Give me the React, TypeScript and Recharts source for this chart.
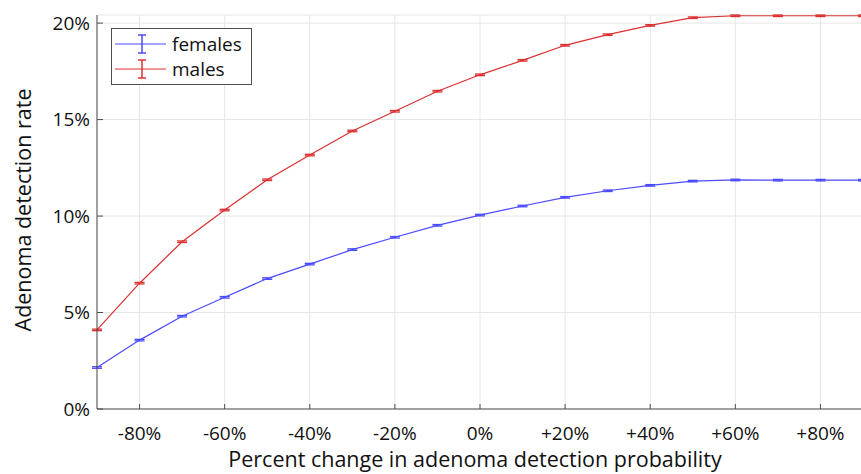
import React from 'react';
import { LineChart, Line, XAxis, YAxis, CartesianGrid, ErrorBar, Label } from 'recharts';

const changes = [-90, -80, -70, -60, -50, -40, -30, -20, -10, 0, 10, 20, 30, 40, 50, 60, 70, 80, 90];
const males = [4.1, 6.52, 8.67, 10.31, 11.88, 13.16, 14.41, 15.43, 16.47, 17.32, 18.07, 18.85, 19.4, 19.88, 20.28, 20.38, 20.38, 20.38, 20.38];
const females = [2.15, 3.57, 4.81, 5.79, 6.76, 7.51, 8.26, 8.9, 9.52, 10.05, 10.52, 10.97, 11.31, 11.59, 11.81, 11.87, 11.86, 11.86, 11.86];
const maleErr = [0.04, 0.04, 0.04, 0.04, 0.04, 0.04, 0.04, 0.04, 0.04, 0.04, 0.04, 0.04, 0.04, 0.04, 0.04, 0.04, 0.04, 0.04, 0.04];
const femaleErr = [0.04, 0.04, 0.04, 0.04, 0.04, 0.04, 0.04, 0.04, 0.04, 0.04, 0.04, 0.04, 0.04, 0.04, 0.04, 0.04, 0.04, 0.04, 0.04];
const xTicks = [-80, -60, -40, -20, 0, 20, 40, 60, 80];
const yTicks = [0, 5, 10, 15, 20];
const seriesNames = ['females', 'males'];

const data = changes.map((c, i) => ({
  change: c,
  males: males[i],
  females: females[i],
  maleErr: maleErr[i],
  femaleErr: femaleErr[i],
}));

const FONT = '"Open Sans", "Noto Sans", sans-serif';
const BLUE = '#4b4bff';
const RED = '#dc3030';
const AXIS = '#4d4d4d';
const COLORS = [BLUE, RED];

const fmtX = (v: number) => (v > 0 ? `+${v}%` : `${v}%`);
const fmtY = (v: number) => `${v}%`;

const LegendBox = () => (
  <svg width={141} height={57} style={{ display: 'block' }}>
    <rect x={0.5} y={0.5} width={140} height={56} fill="#fff" stroke={AXIS} strokeWidth={1} />
    {seriesNames.map((name, i) => {
      const y = 16 + i * 25;
      const color = COLORS[i];
      return (
        <g key={name}>
          <line x1={4} x2={55} y1={y} y2={y} stroke={color} strokeWidth={1} />
          <line x1={31} x2={31} y1={y - 9} y2={y + 9} stroke={color} strokeWidth={1.5} />
          <line x1={27} x2={35} y1={y - 9} y2={y - 9} stroke={color} strokeWidth={1.5} />
          <line x1={27} x2={35} y1={y + 9} y2={y + 9} stroke={color} strokeWidth={1.5} />
          <text x={61} y={y} dominantBaseline="central" fontFamily={FONT} fontSize={19} fill="#111">
            {name}
          </text>
        </g>
      );
    })}
  </svg>
);

const YLabel = (props: any) => {
  const vb = props.viewBox || { x: 0, y: 15, width: 97, height: 394 };
  const cx = 22;
  const cy = vb.y + vb.height / 2 - 2;
  return (
    <text
      x={cx}
      y={cy}
      transform={`rotate(-90, ${cx}, ${cy})`}
      textAnchor="middle"
      dominantBaseline="central"
      fontFamily={FONT}
      fontSize={21.5}
      fill="#111"
    >
      Adenoma detection rate
    </text>
  );
};

const XLabel = () => (
  <text x={475} y={467} textAnchor="middle" fontFamily={FONT} fontSize={21.5} fill="#111">
    Percent change in adenoma detection probability
  </text>
);

export default function App() {
  return (
    <div style={{ position: 'fixed', left: 0, top: 0, width: 861, height: 474, overflow: 'hidden', background: '#fff' }}>
      <LineChart width={866} height={474} data={data} margin={{ top: 15, right: 3, bottom: 0, left: 0 }}>
        <CartesianGrid stroke="#e6e6e6" strokeWidth={1} />
        <XAxis
          dataKey="change"
          type="number"
          domain={[-90, 90]}
          ticks={xTicks}
          tickFormatter={fmtX}
          height={65}
          tickSize={-5}
          tickMargin={23}
          stroke={AXIS}
          tick={{ fontFamily: FONT, fontSize: 19, fill: '#111' }}
          interval={0}
        >
          <Label content={XLabel} />
        </XAxis>
        <YAxis
          type="number"
          domain={[0, 20.4]}
          ticks={yTicks}
          tickFormatter={fmtY}
          width={97}
          tickSize={-6}
          tickMargin={13}
          stroke={AXIS}
          tick={{ fontFamily: FONT, fontSize: 19, fill: '#111' }}
          interval={0}
        >
          <Label content={YLabel} />
        </YAxis>
        <Line
          dataKey="females"
          name="females"
          stroke={BLUE}
          strokeWidth={1.2}
          dot={false}
          activeDot={false}
          isAnimationActive={false}
        >
          <ErrorBar dataKey="femaleErr" width={5} stroke={BLUE} strokeWidth={1.3} isAnimationActive={false} />
        </Line>
        <Line
          dataKey="males"
          name="males"
          stroke={RED}
          strokeWidth={1.2}
          dot={false}
          activeDot={false}
          isAnimationActive={false}
        >
          <ErrorBar dataKey="maleErr" width={5} stroke={RED} strokeWidth={1.3} isAnimationActive={false} />
        </Line>
      </LineChart>
      <div style={{ position: 'absolute', left: 111, top: 28 }}>
        <LegendBox />
      </div>
    </div>
  );
}
